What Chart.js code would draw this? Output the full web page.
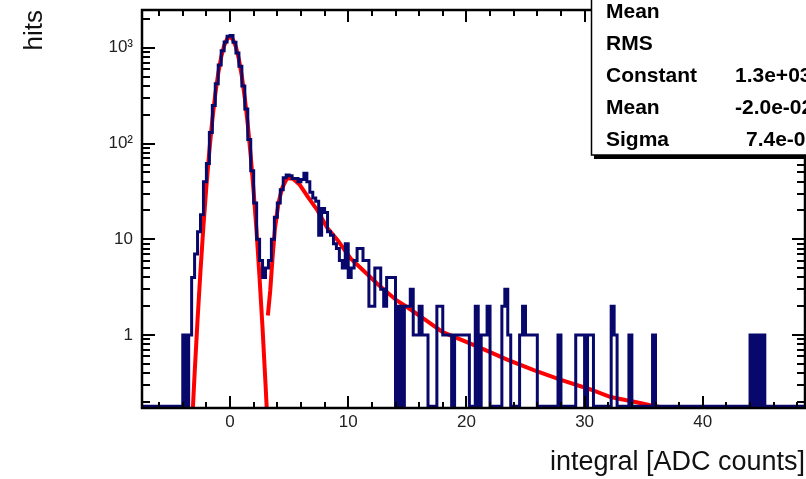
<!DOCTYPE html>
<html>
<head>
<meta charset="utf-8">
<script src="https://cdn.jsdelivr.net/npm/chart.js@4.4.1/dist/chart.umd.min.js"></script>
<style>
  html, body { margin: 0; padding: 0; background: #fff; }
  canvas { display: block; }
</style>
</head>
<body>
<canvas id="histChart" width="806" height="479"></canvas>
<script>
// hits per 0.25 ADC bin, first bin starts at -7.5
const binStart = -7.5;
const binWidth = 0.25;
const hits = [
  0, 0, 0, 0, 0, 0, 0, 0, 0, 0, 0, 0, 0, 0, 1, 0, 1, 4, 7, 12,
  18, 40, 62, 130, 250, 420, 660, 930, 1150, 1320, 1340, 1140, 880, 640, 400, 230, 110, 52, 24, 10,
  6, 4, 5, 6, 10, 17, 24, 33, 44, 47, 46, 43, 43, 40, 42, 49, 40, 31, 27, 25,
  11, 21, 19, 12, 11, 9, 8, 6, 5, 9, 4, 5, 6, 8, 8, 6, 6, 2, 2, 5,
  5, 3, 2, 4, 4, 4, 0, 2, 0, 2, 2, 3, 1, 1, 2, 1, 1, 0, 0, 0,
  2, 2, 1, 1, 1, 0, 1, 1, 1, 1, 1, 0, 0, 2, 0, 1, 1, 2, 0, 0,
  0, 0, 2, 3, 1, 0, 0, 0, 1, 2, 1, 1, 1, 1, 0, 0, 0, 0, 0, 0,
  0, 1, 0, 0, 0, 0, 0, 1, 1, 1, 0, 1, 1, 0, 0, 0, 0, 0, 0, 2,
  1, 0, 0, 0, 0, 1, 0, 0, 0, 0, 0, 0, 0, 1, 0, 0, 0, 0, 0, 0,
  0, 0, 0, 0, 0, 0, 0, 0, 0, 0, 0, 0, 0, 0, 0, 0, 0, 0, 0, 0,
  0, 0, 0, 0, 0, 0, 1, 0, 1, 0, 1, 0, 0, 0, 0, 0, 0, 0, 0, 0,
  0, 0, 0, 0, 0
];

// pedestal gaussian fit
const gausX = [-3.25, -3.0, -2.75, -2.5, -2.25, -2.0, -1.75, -1.5, -1.25, -1.0, -0.75, -0.5, -0.25, 0,
  0.25, 0.5, 0.75, 1.0, 1.25, 1.5, 1.75, 2.0, 2.25, 2.5, 2.75, 3.0, 3.25];
const gausY = [0.095, 0.39, 1.44, 4.7, 13.9, 36, 84, 176, 327, 541, 799, 1054, 1239, 1300,
  1216, 1016, 757, 503, 298, 158, 74, 31, 11.8, 3.9, 1.18, 0.31, 0.075];

// signal fit (second red curve)
const tailX = [3.2, 3.4, 3.6, 3.8, 4.1, 4.4, 4.8, 5.3, 5.9, 6.6, 7.4, 8.2, 9.1, 10.2, 11.3, 12.5,
  14.1, 15.0, 16.5, 18.0, 20.6, 23.5, 25.7, 28.0, 30.5, 32.2, 34.7, 36.0, 37.3];
const tailY = [1.6, 2.9, 6.5, 13, 24, 34, 43, 43, 37, 27.5, 20, 13.3, 9.8, 6.3, 4.7, 3.4,
  2.3, 1.95, 1.45, 1.07, 0.79, 0.55, 0.43, 0.34, 0.27, 0.225, 0.195, 0.18, 0.17];

const xTicks = [0, 10, 20, 30, 40];
const yTicks = [1, 10, 100, 1000];
const yTickLabels = ['1', '10', '10²', '10³'];

const statNames = ['Mean', 'RMS', 'Constant', 'Mean', 'Sigma'];
const statValues = ['', '', '1.3e+03', '-2.0e-02', '7.4e-01'];

const xMin = -7.45, xMax = 48.65;
const yMin = 0.173, yMax = 2480;
const FONT = '"Liberation Sans", Arial, Helvetica, sans-serif';

// empty bins sit on the bottom of the frame
const floorY = yMin * 1.04;
const histPoints = [];
hits.forEach((h, i) => {
  const lo = binStart + i * binWidth;
  const v = h > 0 ? h : floorY;
  histPoints.push({ x: lo, y: v }, { x: lo + binWidth, y: v });
});

// frame with inward ticks on all four sides, ROOT style
const frameTicks = {
  id: 'frameTicks',
  afterDatasetsDraw(chart) {
    const { ctx, chartArea: a, scales: { x, y } } = chart;
    ctx.save();
    ctx.strokeStyle = '#000';
    ctx.lineWidth = 2;
    ctx.beginPath();
    for (let v = -6; v <= 48; v += 2) {
      const px = Math.round(x.getPixelForValue(v));
      const len = v % 10 === 0 ? 12 : 6;
      ctx.moveTo(px, a.bottom); ctx.lineTo(px, a.bottom - len);
      ctx.moveTo(px, a.top); ctx.lineTo(px, a.top + len);
    }
    for (let d = -1; d <= 3; d++) {
      for (let k = 1; k <= 9; k++) {
        const v = k * Math.pow(10, d);
        if (v < yMin || v > yMax) continue;
        const py = Math.round(y.getPixelForValue(v));
        const len = k === 1 ? 13 : 8;
        ctx.moveTo(a.left, py); ctx.lineTo(a.left + len, py);
        ctx.moveTo(a.right, py); ctx.lineTo(a.right - len, py);
      }
    }
    ctx.stroke();
    ctx.lineWidth = 2.5;
    ctx.strokeRect(a.left, a.top, a.right - a.left, a.bottom - a.top);
    ctx.restore();
  }
};

// statistics box, cut by the right edge like the original
const statsBox = {
  id: 'statsBox',
  afterDraw(chart) {
    const ctx = chart.ctx;
    const bx = 591, by = -4, bw = 320, bh = 159;
    ctx.save();
    ctx.fillStyle = '#000';
    ctx.fillRect(bx + 3, by + bh, bw, 4);
    ctx.fillStyle = '#fff';
    ctx.fillRect(bx, by, bw, bh);
    ctx.strokeStyle = '#000';
    ctx.lineWidth = 1.5;
    ctx.strokeRect(bx + 0.5, by, bw, bh);
    ctx.font = 'bold 21px ' + FONT;
    ctx.textBaseline = 'middle';
    ctx.fillStyle = '#000';
    const valueX = [0, 0, 735, 735, 746];
    statNames.forEach((name, i) => {
      const ty = 12 + i * 32;
      ctx.fillText(name, 606, ty);
      if (statValues[i]) ctx.fillText(statValues[i], valueX[i], ty);
    });
    ctx.restore();
  }
};

new Chart(document.getElementById('histChart'), {
  type: 'line',
  data: {
    datasets: [
      {
        label: 'hits',
        data: histPoints,
        borderColor: '#08086c',
        borderWidth: 3,
        pointRadius: 0,
        tension: 0,
        fill: false,
        clip: 2
      },
      {
        label: 'gaus',
        data: gausX.map((x, i) => ({ x: x, y: gausY[i] })),
        borderColor: '#ff0000',
        borderWidth: 4,
        pointRadius: 0,
        tension: 0,
        fill: false,
        clip: 0
      },
      {
        label: 'signal',
        data: tailX.map((x, i) => ({ x: x, y: tailY[i] })),
        borderColor: '#ff0000',
        borderWidth: 4,
        pointRadius: 0,
        tension: 0,
        fill: false,
        clip: 0
      }
    ]
  },
  options: {
    responsive: false,
    devicePixelRatio: 1,
    animation: false,
    layout: { padding: { left: 0, top: 10, right: 1, bottom: 0 } },
    scales: {
      x: {
        type: 'linear',
        min: xMin,
        max: xMax,
        grid: { display: false, drawTicks: false },
        border: { display: false },
        afterBuildTicks: s => { s.ticks = xTicks.map(v => ({ value: v })); },
        afterFit: s => { s.height = 71; s.paddingLeft = 0; s.paddingRight = 0; },
        ticks: {
          padding: 4,
          maxRotation: 0,
          color: '#222',
          font: { family: FONT, size: 17 },
          callback: v => String(v)
        },
        title: {
          display: true,
          text: 'integral [ADC counts]',
          align: 'end',
          color: '#111',
          font: { family: FONT, size: 27 },
          padding: { top: 0, bottom: 0 }
        }
      },
      y: {
        type: 'logarithmic',
        min: yMin,
        max: yMax,
        grid: { display: false, drawTicks: false },
        border: { display: false },
        afterBuildTicks: s => { s.ticks = yTicks.map(v => ({ value: v })); },
        afterFit: s => { s.width = 142; s.paddingTop = 0; s.paddingBottom = 0; },
        ticks: {
          padding: 9,
          color: '#222',
          font: { family: FONT, size: 17 },
          callback: v => yTickLabels[yTicks.indexOf(v)]
        },
        title: {
          display: true,
          text: 'hits',
          align: 'end',
          color: '#111',
          font: { family: FONT, size: 26 },
          padding: { top: 19, bottom: 0 }
        }
      }
    },
    plugins: {
      legend: { display: false },
      tooltip: { enabled: false }
    }
  },
  plugins: [frameTicks, statsBox]
});
</script>
</body>
</html>
